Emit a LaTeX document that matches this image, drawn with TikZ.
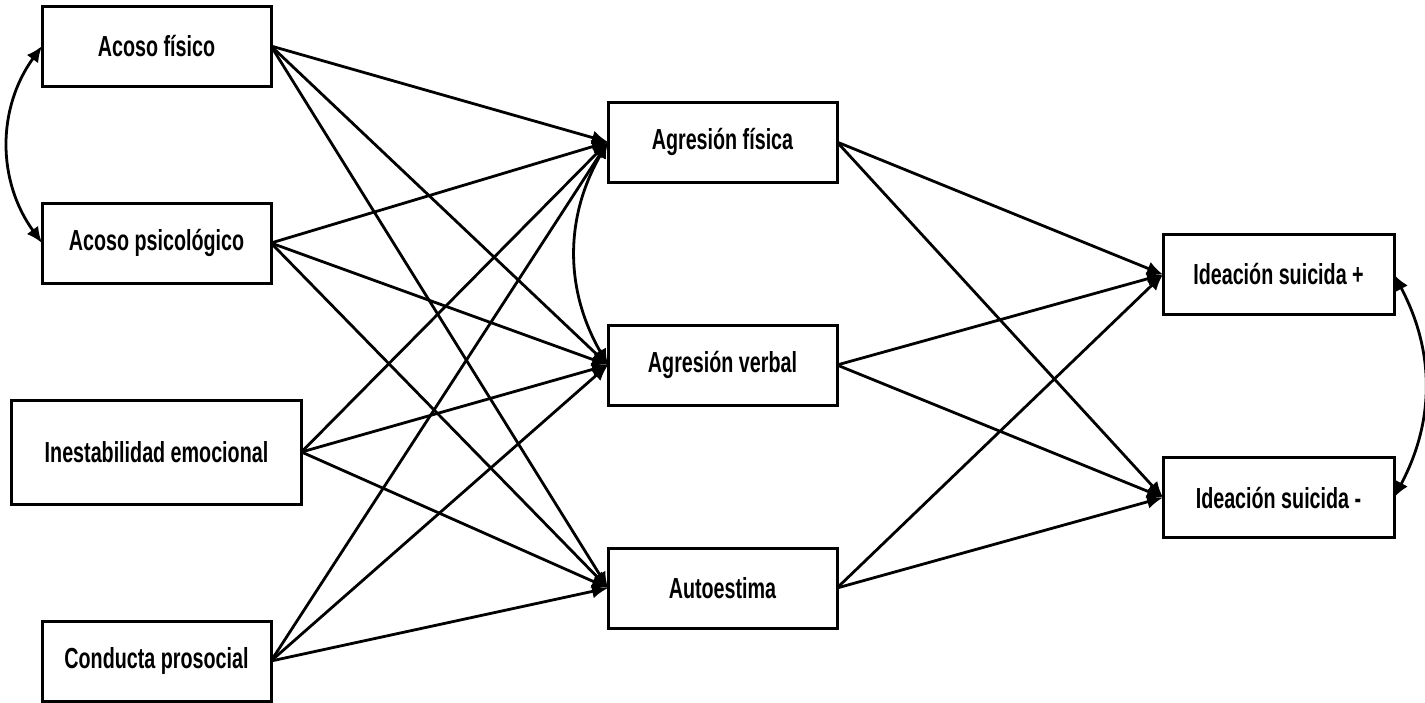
\documentclass[tikz,border=0pt]{standalone}
\usepackage{fontspec}
\setmainfont{Liberation Sans}[FakeStretch=0.68]
\usetikzlibrary{arrows.meta,positioning}

\begin{document}
\begin{tikzpicture}[
  x=0.5pt, y=-0.5pt,
  node distance=58.5pt and 168pt,
  every node/.style={font=\fontsize{14.5}{16}\selectfont\bfseries},
  var/.style={draw, line width=1.5pt, align=center, inner sep=0pt, outer sep=0pt, minimum width=114.5pt, minimum height=40pt},
  arr/.style={-{Latex[length=8pt,width=7pt]}, line width=1.4pt},
  darr/.style={{Latex[length=8pt,width=7pt]}-{Latex[length=8pt,width=7pt]}, line width=1.4pt}
]
\useasboundingbox (0,0) rectangle (1425,702);

% Predictors
\node[var] (AF) at (156.5,46) {Acoso físico};
\node[var, below=of AF] (AP) {Acoso psicológico};
\node[var, below=of AP, minimum width=145pt, minimum height=52pt] (IE) {Inestabilidad emocional};
\node[var, below=of IE] (CP) {Conducta prosocial};

% Mediators
\node[var] (AgF) at (722.5,142) {Agresión física};
\node[var, below=71.5pt of AgF] (AgV) {Agresión verbal};
\node[var, below=71.5pt of AgV] (Au) {Autoestima};

% Outcomes
\node[var, minimum width=115.5pt] (ISp) at (1278.5,274.5) {Ideación suicida +};
\node[var, minimum width=115.5pt, below=71.5pt of ISp] (ISm) {Ideación suicida -};

% Predictors to mediators
\draw[arr] (AF.east) -- (AgF.west);
\draw[arr] (AF.east) -- (AgV.west);
\draw[arr] (AF.east) -- (Au.west);
\draw[arr] (AP.east) -- (AgF.west);
\draw[arr] (AP.east) -- (AgV.west);
\draw[arr] (AP.east) -- (Au.west);
\draw[arr] (IE.east) -- (AgF.west);
\draw[arr] (IE.east) -- (AgV.west);
\draw[arr] (IE.east) -- (Au.west);
\draw[arr] (CP.east) -- (AgF.west);
\draw[arr] (CP.east) -- (AgV.west);
\draw[arr] (CP.east) -- (Au.west);

% Mediators to outcomes
\draw[arr] (AgF.east) -- (ISp.west);
\draw[arr] (AgF.east) -- (ISm.west);
\draw[arr] (AgV.east) -- (ISp.west);
\draw[arr] (AgV.east) -- (ISm.west);
\draw[arr] (Au.east) -- (ISp.west);
\draw[arr] (Au.east) -- (ISm.west);

% Covariances
\draw[darr] (AF.west) to[bend right=36] (AP.west);
\draw[darr] (AgF.west) to[bend right=30] (AgV.west);
\draw[darr] (ISp.east) to[bend left=28] (ISm.east);
\end{tikzpicture}
\end{document}
